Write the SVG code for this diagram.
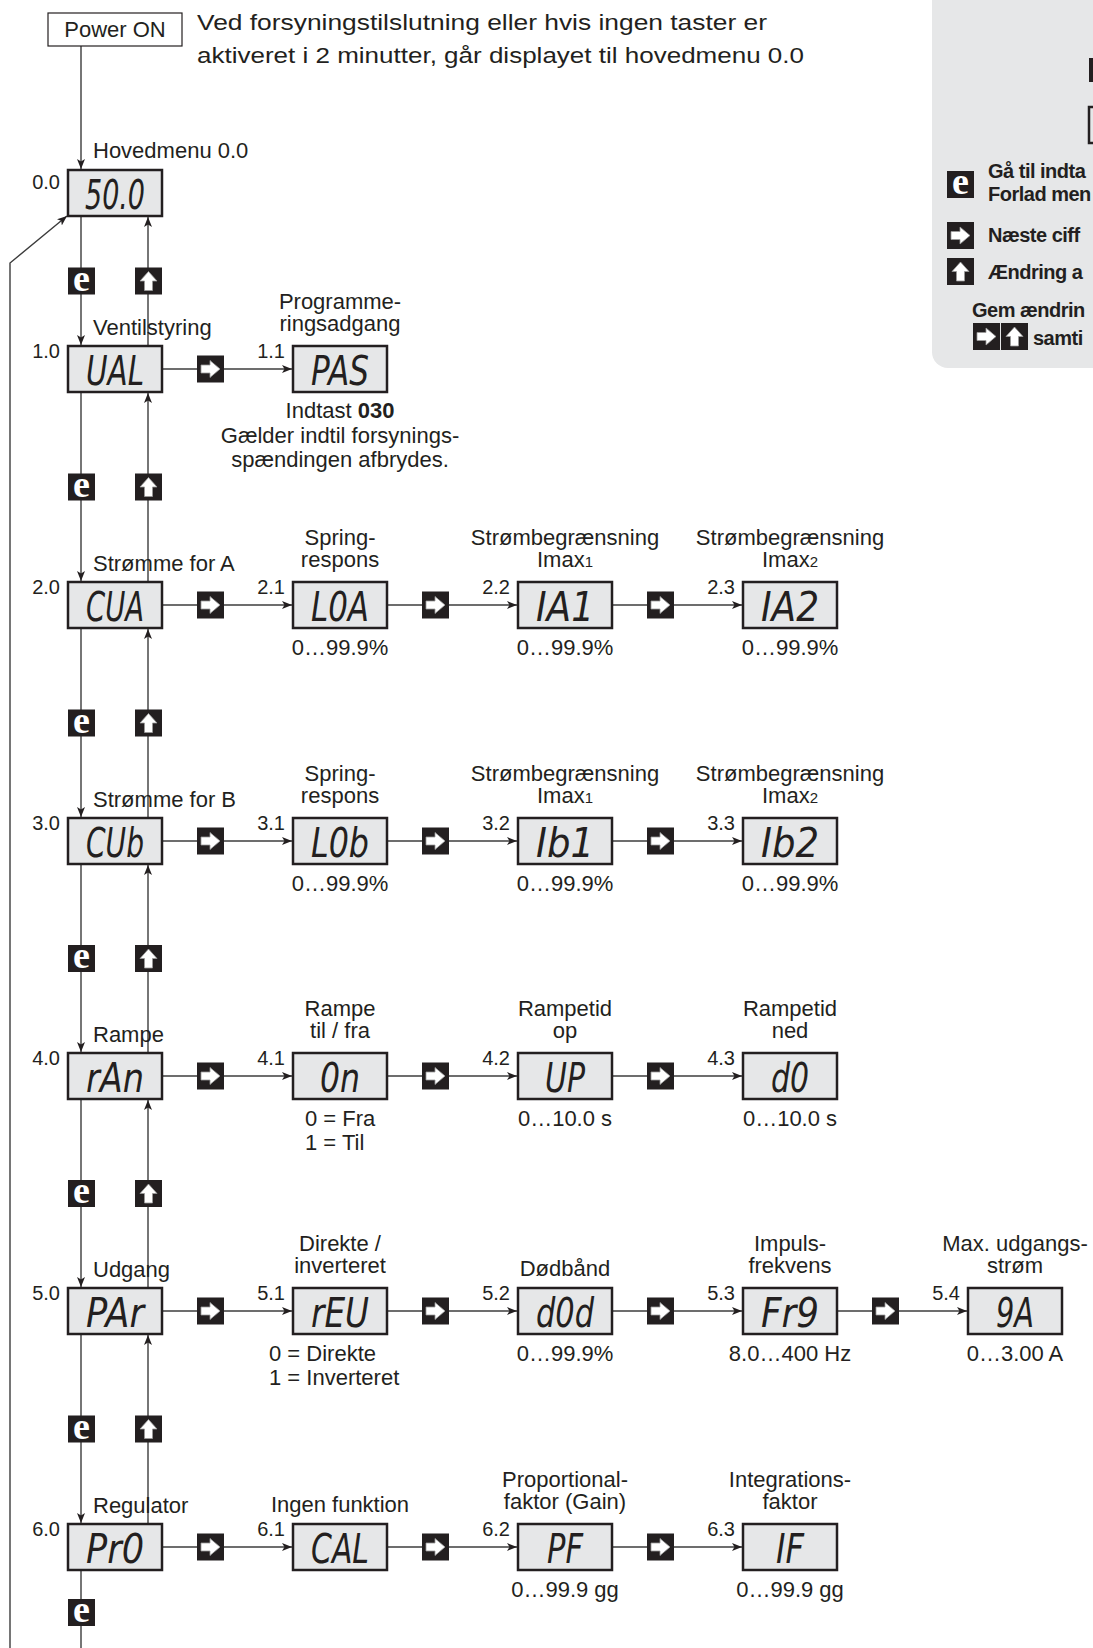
<svg xmlns="http://www.w3.org/2000/svg" width="1093" height="1648" viewBox="0 0 1093 1648">
<style>
.t{font-family:"Liberation Sans",Arial,sans-serif;font-size:22px;fill:#231f20}
.m{text-anchor:middle}
.e{text-anchor:end}
.n{font-size:20px}
.b{fill:#e6e7e8;stroke:#231f20;stroke-width:2.5}
.d{font-family:"DejaVu Sans Condensed","DejaVu Sans",sans-serif;font-style:oblique;font-size:40px;fill:#231f20;text-anchor:middle}
.l{stroke:#3c3c3c;stroke-width:1.4;fill:none}
.a{marker-end:url(#ah)}
.lg{font-family:"Liberation Sans",Arial,sans-serif;font-size:20px;font-weight:bold;letter-spacing:-0.5px;fill:#231f20}
</style>
<defs>
<marker id="ah" viewBox="0 0 10 8" refX="10" refY="4" markerWidth="10" markerHeight="8" markerUnits="userSpaceOnUse" orient="auto"><path d="M0,0 L10,4 L0,8 L2.5,4 z" fill="#231f20"/></marker>
<g id="ie"><rect width="27" height="27" fill="#231f20"/><text x="13.5" y="23" text-anchor="middle" font-family="'Liberation Serif',serif" font-weight="bold" font-size="38" fill="#fff">e</text></g>
<g id="ir"><rect width="27" height="27" fill="#231f20"/><polygon points="4,9.5 13,9.5 13,5 23,13.5 13,22 13,17.5 4,17.5" fill="#fff" stroke="#9a9a9a" stroke-width="0.8"/></g>
<g id="iu"><rect width="27" height="27" fill="#231f20"/><polygon points="13.5,4 22,13.5 17.5,13.5 17.5,23 9.5,23 9.5,13.5 5,13.5" fill="#fff" stroke="#9a9a9a" stroke-width="0.8"/></g>
</defs>

<!-- legend panel -->
<g id="legend">
<rect x="932" y="-30" width="200" height="398" rx="16" fill="#e6e7e8"/>
<rect x="1089" y="58" width="20" height="24" fill="#231f20"/>
<rect x="1089" y="107" width="60" height="36" class="b"/>
<use href="#ie" x="947" y="171"/>
<text class="lg" x="988" y="178">Gå til indta</text>
<text class="lg" x="988" y="201">Forlad men</text>
<use href="#ir" x="947" y="222"/>
<text class="lg" x="988" y="242">Næste ciff</text>
<use href="#iu" x="947" y="258"/>
<text class="lg" x="988" y="279">Ændring a</text>
<text class="lg" x="972" y="317">Gem ændrin</text>
<use href="#ir" x="973" y="323"/>
<use href="#iu" x="1001" y="323"/>
<text class="lg" x="1033" y="345">samti</text>
</g>

<g id="connectors">
<line class="l a" x1="81" y1="46" x2="81" y2="169"/>
<polyline class="l a" points="10,1648 10,263 67,216"/>
<line class="l a" x1="81" y1="216" x2="81" y2="345"/>
<line class="l a" x1="81" y1="392" x2="81" y2="581"/>
<line class="l a" x1="81" y1="628" x2="81" y2="817"/>
<line class="l a" x1="81" y1="864" x2="81" y2="1052"/>
<line class="l a" x1="81" y1="1099" x2="81" y2="1287"/>
<line class="l a" x1="81" y1="1334" x2="81" y2="1523"/>
<line class="l" x1="81" y1="1570" x2="81" y2="1648"/>
<line class="l a" x1="148" y1="346" x2="148" y2="217"/>
<line class="l a" x1="148" y1="582" x2="148" y2="393"/>
<line class="l a" x1="148" y1="818" x2="148" y2="629"/>
<line class="l a" x1="148" y1="1053" x2="148" y2="865"/>
<line class="l a" x1="148" y1="1288" x2="148" y2="1100"/>
<line class="l a" x1="148" y1="1524" x2="148" y2="1335"/>
<line class="l a" x1="162" y1="369" x2="292" y2="369"/>
<line class="l a" x1="162" y1="605" x2="292" y2="605"/>
<line class="l a" x1="387" y1="605" x2="517" y2="605"/>
<line class="l a" x1="612" y1="605" x2="742" y2="605"/>
<line class="l a" x1="162" y1="841" x2="292" y2="841"/>
<line class="l a" x1="387" y1="841" x2="517" y2="841"/>
<line class="l a" x1="612" y1="841" x2="742" y2="841"/>
<line class="l a" x1="162" y1="1076" x2="292" y2="1076"/>
<line class="l a" x1="387" y1="1076" x2="517" y2="1076"/>
<line class="l a" x1="612" y1="1076" x2="742" y2="1076"/>
<line class="l a" x1="162" y1="1311" x2="292" y2="1311"/>
<line class="l a" x1="387" y1="1311" x2="517" y2="1311"/>
<line class="l a" x1="612" y1="1311" x2="742" y2="1311"/>
<line class="l a" x1="837" y1="1311" x2="967" y2="1311"/>
<line class="l a" x1="162" y1="1547" x2="292" y2="1547"/>
<line class="l a" x1="387" y1="1547" x2="517" y2="1547"/>
<line class="l a" x1="612" y1="1547" x2="742" y2="1547"/>
<use href="#ie" x="68" y="267.5"/><use href="#iu" x="135" y="267.5"/>
<use href="#ie" x="68" y="473.5"/><use href="#iu" x="135" y="473.5"/>
<use href="#ie" x="68" y="709.5"/><use href="#iu" x="135" y="709.5"/>
<use href="#ie" x="68" y="945"/><use href="#iu" x="135" y="945"/>
<use href="#ie" x="68" y="1180"/><use href="#iu" x="135" y="1180"/>
<use href="#ie" x="68" y="1415.5"/><use href="#iu" x="135" y="1415.5"/>
<use href="#ie" x="68" y="1599"/>
<use href="#ir" x="197" y="355.5"/>
<use href="#ir" x="197" y="591.5"/><use href="#ir" x="422" y="591.5"/><use href="#ir" x="647" y="591.5"/>
<use href="#ir" x="197" y="827.5"/><use href="#ir" x="422" y="827.5"/><use href="#ir" x="647" y="827.5"/>
<use href="#ir" x="197" y="1062.5"/><use href="#ir" x="422" y="1062.5"/><use href="#ir" x="647" y="1062.5"/>
<use href="#ir" x="197" y="1297.5"/><use href="#ir" x="422" y="1297.5"/><use href="#ir" x="647" y="1297.5"/><use href="#ir" x="872" y="1297.5"/>
<use href="#ir" x="197" y="1533.5"/><use href="#ir" x="422" y="1533.5"/><use href="#ir" x="647" y="1533.5"/>
</g>

<g id="power">
<rect x="48" y="13" width="134" height="33" fill="#fff" stroke="#231f20" stroke-width="1.2"/>
<text class="t m" x="115" y="37" font-size="20">Power ON</text>
</g>
<g id="note">
<text class="t" x="197" y="30" font-size="23" textLength="570" lengthAdjust="spacingAndGlyphs">Ved forsyningstilslutning eller hvis ingen taster er</text>
<text class="t" x="197" y="63" font-size="23" textLength="607" lengthAdjust="spacingAndGlyphs">aktiveret i 2 minutter, går displayet til hovedmenu 0.0</text>
</g>

<g id="n00"><text class="t" x="93" y="158">Hovedmenu 0.0</text><text class="t n e" x="60" y="189">0.0</text><rect class="b" x="68" y="170" width="94" height="46"/><text class="d" x="115" y="209" textLength="60" lengthAdjust="spacingAndGlyphs">50.0</text></g>

<g id="n10"><text class="t" x="93" y="335">Ventilstyring</text><text class="t n e" x="60" y="358">1.0</text><rect class="b" x="68" y="346" width="94" height="46"/><text class="d" x="115" y="385" textLength="58" lengthAdjust="spacingAndGlyphs">UAL</text></g>
<g id="n11"><text class="t m" x="340" y="309">Programme-</text><text class="t m" x="340" y="331">ringsadgang</text><text class="t n e" x="285" y="358">1.1</text><rect class="b" x="293" y="346" width="94" height="46"/><text class="d" x="340" y="385" textLength="58" lengthAdjust="spacingAndGlyphs">PAS</text><text class="t m" x="340" y="418">Indtast <tspan font-weight="bold">030</tspan></text><text class="t m" x="340" y="443">Gælder indtil forsynings-</text><text class="t m" x="340" y="467">spændingen afbrydes.</text></g>

<g id="n20"><text class="t" x="93" y="571">Strømme for A</text><text class="t n e" x="60" y="594">2.0</text><rect class="b" x="68" y="582" width="94" height="46"/><text class="d" x="115" y="621" textLength="58" lengthAdjust="spacingAndGlyphs">CUA</text></g>
<g id="n21"><text class="t m" x="340" y="545">Spring-</text><text class="t m" x="340" y="567">respons</text><text class="t n e" x="285" y="594">2.1</text><rect class="b" x="293" y="582" width="94" height="46"/><text class="d" x="340" y="621" textLength="58" lengthAdjust="spacingAndGlyphs">L0A</text><text class="t m" x="340" y="655">0…99.9%</text></g>
<g id="n22"><text class="t m" x="565" y="545">Strømbegrænsning</text><text class="t m" x="565" y="567">Imax<tspan font-size="15">1</tspan></text><text class="t n e" x="510" y="594">2.2</text><rect class="b" x="518" y="582" width="94" height="46"/><text class="d" x="565" y="621" textLength="58" lengthAdjust="spacingAndGlyphs">IA1</text><text class="t m" x="565" y="655">0…99.9%</text></g>
<g id="n23"><text class="t m" x="790" y="545">Strømbegrænsning</text><text class="t m" x="790" y="567">Imax<tspan font-size="15">2</tspan></text><text class="t n e" x="735" y="594">2.3</text><rect class="b" x="743" y="582" width="94" height="46"/><text class="d" x="790" y="621" textLength="58" lengthAdjust="spacingAndGlyphs">IA2</text><text class="t m" x="790" y="655">0…99.9%</text></g>

<g id="n30"><text class="t" x="93" y="807">Strømme for B</text><text class="t n e" x="60" y="830">3.0</text><rect class="b" x="68" y="818" width="94" height="46"/><text class="d" x="115" y="857" textLength="58" lengthAdjust="spacingAndGlyphs">CUb</text></g>
<g id="n31"><text class="t m" x="340" y="781">Spring-</text><text class="t m" x="340" y="803">respons</text><text class="t n e" x="285" y="830">3.1</text><rect class="b" x="293" y="818" width="94" height="46"/><text class="d" x="340" y="857" textLength="58" lengthAdjust="spacingAndGlyphs">L0b</text><text class="t m" x="340" y="891">0…99.9%</text></g>
<g id="n32"><text class="t m" x="565" y="781">Strømbegrænsning</text><text class="t m" x="565" y="803">Imax<tspan font-size="15">1</tspan></text><text class="t n e" x="510" y="830">3.2</text><rect class="b" x="518" y="818" width="94" height="46"/><text class="d" x="565" y="857" textLength="58" lengthAdjust="spacingAndGlyphs">Ib1</text><text class="t m" x="565" y="891">0…99.9%</text></g>
<g id="n33"><text class="t m" x="790" y="781">Strømbegrænsning</text><text class="t m" x="790" y="803">Imax<tspan font-size="15">2</tspan></text><text class="t n e" x="735" y="830">3.3</text><rect class="b" x="743" y="818" width="94" height="46"/><text class="d" x="790" y="857" textLength="58" lengthAdjust="spacingAndGlyphs">Ib2</text><text class="t m" x="790" y="891">0…99.9%</text></g>

<g id="n40"><text class="t" x="93" y="1042">Rampe</text><text class="t n e" x="60" y="1065">4.0</text><rect class="b" x="68" y="1053" width="94" height="46"/><text class="d" x="115" y="1092" textLength="58" lengthAdjust="spacingAndGlyphs">rAn</text></g>
<g id="n41"><text class="t m" x="340" y="1016">Rampe</text><text class="t m" x="340" y="1038">til / fra</text><text class="t n e" x="285" y="1065">4.1</text><rect class="b" x="293" y="1053" width="94" height="46"/><text class="d" x="340" y="1092" textLength="40" lengthAdjust="spacingAndGlyphs">0n</text><text class="t" x="305" y="1126">0 = Fra</text><text class="t" x="305" y="1150">1 = Til</text></g>
<g id="n42"><text class="t m" x="565" y="1016">Rampetid</text><text class="t m" x="565" y="1038">op</text><text class="t n e" x="510" y="1065">4.2</text><rect class="b" x="518" y="1053" width="94" height="46"/><text class="d" x="565" y="1092" textLength="40" lengthAdjust="spacingAndGlyphs">UP</text><text class="t m" x="565" y="1126">0…10.0 s</text></g>
<g id="n43"><text class="t m" x="790" y="1016">Rampetid</text><text class="t m" x="790" y="1038">ned</text><text class="t n e" x="735" y="1065">4.3</text><rect class="b" x="743" y="1053" width="94" height="46"/><text class="d" x="790" y="1092" textLength="38" lengthAdjust="spacingAndGlyphs">d0</text><text class="t m" x="790" y="1126">0…10.0 s</text></g>

<g id="n50"><text class="t" x="93" y="1277">Udgang</text><text class="t n e" x="60" y="1300">5.0</text><rect class="b" x="68" y="1288" width="94" height="46"/><text class="d" x="115" y="1327" textLength="58" lengthAdjust="spacingAndGlyphs">PAr</text></g>
<g id="n51"><text class="t m" x="340" y="1251">Direkte /</text><text class="t m" x="340" y="1273">inverteret</text><text class="t n e" x="285" y="1300">5.1</text><rect class="b" x="293" y="1288" width="94" height="46"/><text class="d" x="340" y="1327" textLength="58" lengthAdjust="spacingAndGlyphs">rEU</text><text class="t" x="269" y="1361">0 = Direkte</text><text class="t" x="269" y="1385">1 = Inverteret</text></g>
<g id="n52"><text class="t m" x="565" y="1276">Dødbånd</text><text class="t n e" x="510" y="1300">5.2</text><rect class="b" x="518" y="1288" width="94" height="46"/><text class="d" x="565" y="1327" textLength="58" lengthAdjust="spacingAndGlyphs">d0d</text><text class="t m" x="565" y="1361">0…99.9%</text></g>
<g id="n53"><text class="t m" x="790" y="1251">Impuls-</text><text class="t m" x="790" y="1273">frekvens</text><text class="t n e" x="735" y="1300">5.3</text><rect class="b" x="743" y="1288" width="94" height="46"/><text class="d" x="790" y="1327" textLength="58" lengthAdjust="spacingAndGlyphs">Fr9</text><text class="t m" x="790" y="1361">8.0…400 Hz</text></g>
<g id="n54"><text class="t m" x="1015" y="1251">Max. udgangs-</text><text class="t m" x="1015" y="1273">strøm</text><text class="t n e" x="960" y="1300">5.4</text><rect class="b" x="968" y="1288" width="94" height="46"/><text class="d" x="1015" y="1327" textLength="38" lengthAdjust="spacingAndGlyphs">9A</text><text class="t m" x="1015" y="1361">0…3.00 A</text></g>

<g id="n60"><text class="t" x="93" y="1513">Regulator</text><text class="t n e" x="60" y="1536">6.0</text><rect class="b" x="68" y="1524" width="94" height="46"/><text class="d" x="115" y="1563" textLength="58" lengthAdjust="spacingAndGlyphs">Pr0</text></g>
<g id="n61"><text class="t m" x="340" y="1512">Ingen funktion</text><text class="t n e" x="285" y="1536">6.1</text><rect class="b" x="293" y="1524" width="94" height="46"/><text class="d" x="340" y="1563" textLength="58" lengthAdjust="spacingAndGlyphs">CAL</text></g>
<g id="n62"><text class="t m" x="565" y="1487">Proportional-</text><text class="t m" x="565" y="1509">faktor (Gain)</text><text class="t n e" x="510" y="1536">6.2</text><rect class="b" x="518" y="1524" width="94" height="46"/><text class="d" x="565" y="1563" textLength="36" lengthAdjust="spacingAndGlyphs">PF</text><text class="t m" x="565" y="1597">0…99.9 gg</text></g>
<g id="n63"><text class="t m" x="790" y="1487">Integrations-</text><text class="t m" x="790" y="1509">faktor</text><text class="t n e" x="735" y="1536">6.3</text><rect class="b" x="743" y="1524" width="94" height="46"/><text class="d" x="790" y="1563" textLength="28" lengthAdjust="spacingAndGlyphs">IF</text><text class="t m" x="790" y="1597">0…99.9 gg</text></g>
</svg>
